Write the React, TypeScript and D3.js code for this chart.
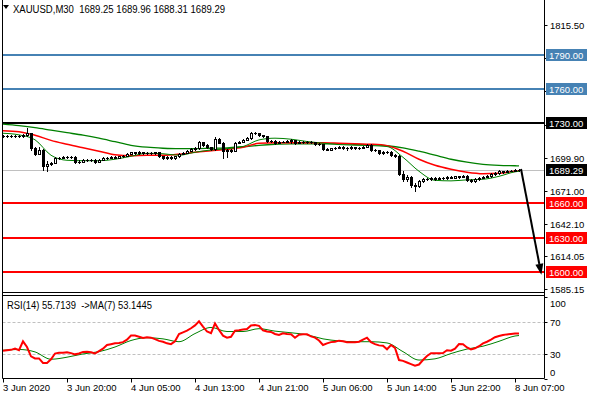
import React from "react";
import * as d3 from "d3";

const W = 590;
const H = 400;

const symbolText = "XAUUSD,M30  1689.25 1689.96 1688.31 1689.29";
const rsiText = "RSI(14) 55.7139  ->MA(7) 53.1445";

const timeTickIndex = [0, 16, 32, 48, 64, 80, 96, 112, 128];
const timeTickLabels = ["3 Jun 2020", "3 Jun 20:00", "4 Jun 05:00", "4 Jun 13:00", "4 Jun 21:00", "5 Jun 06:00", "5 Jun 14:00", "5 Jun 22:00", "8 Jun 07:00"];

const priceTicks = [1815.5, 1786.6, 1757.7, 1728.8, 1699.9, 1671.0, 1642.1, 1614.05, 1585.15];
const hiddenPriceTicks = [1786.6, 1757.7, 1728.8];
const rsiTicks = [100, 70, 30, 0];
const rsiLevels = [70, 30];

const blueLevels = [1790, 1760];
const blackLevels = [1730];
const redLevels = [1660, 1630, 1600];
const bidPrice = 1689.29;

const arrowFrom = [129.5, 1690];
const arrowTo = [134.6, 1597.5];

const opens = [
  1719.0, 1718.5, 1719.0, 1718.4, 1719.2, 1718.8, 1719.5, 1721.0, 1708.0, 1703.5,
  1706.8, 1692.5, 1694.5, 1695.0, 1699.5, 1699.8, 1700.5, 1700.2, 1700.8, 1696.0,
  1696.5, 1697.5, 1698.0, 1697.5, 1696.5, 1698.0, 1699.5, 1700.0, 1700.5, 1700.0,
  1701.0, 1701.5, 1703.5, 1704.5, 1704.0, 1704.5, 1704.0, 1704.2, 1703.8, 1704.5,
  1701.0, 1699.5, 1700.5, 1699.5, 1701.0, 1703.5, 1704.0, 1706.0, 1707.5, 1708.5,
  1713.5, 1711.0, 1709.0, 1707.5, 1716.6, 1713.1, 1705.8, 1706.5, 1706.0, 1713.1,
  1714.0, 1715.5, 1717.0, 1721.2, 1721.5, 1719.5, 1718.5, 1714.5, 1714.5, 1713.0,
  1714.0, 1714.0, 1714.5, 1715.0, 1713.0, 1713.5, 1714.0, 1713.5, 1713.5, 1712.0,
  1711.5, 1707.5, 1707.0, 1708.0, 1708.5, 1709.5, 1708.5, 1708.0, 1709.0, 1708.0,
  1708.5, 1709.5, 1711.0, 1707.0, 1706.5, 1704.0, 1704.5, 1705.0, 1702.5, 1701.5,
  1686.0, 1681.0, 1683.0, 1676.0, 1675.0, 1679.5, 1681.0, 1681.5, 1682.0, 1681.5,
  1682.5, 1682.0, 1683.0, 1682.5, 1683.5, 1683.0, 1684.0, 1680.5, 1679.5, 1681.0,
  1682.5, 1683.0, 1683.5, 1685.5, 1686.5, 1688.0, 1687.5, 1688.5, 1688.5, 1689.25,
];
const closes = [
  1718.5, 1719.0, 1718.4, 1719.2, 1718.8, 1719.5, 1721.0, 1708.0, 1703.5, 1706.8,
  1692.5, 1694.5, 1695.0, 1699.5, 1699.8, 1700.5, 1700.2, 1700.8, 1696.0, 1696.5,
  1697.5, 1698.0, 1697.5, 1696.5, 1698.0, 1699.5, 1700.0, 1700.5, 1700.0, 1701.0,
  1701.5, 1703.5, 1704.5, 1704.0, 1704.5, 1704.0, 1704.2, 1703.8, 1704.5, 1701.0,
  1699.5, 1700.5, 1699.5, 1701.0, 1703.5, 1704.0, 1706.0, 1707.5, 1708.5, 1713.5,
  1711.0, 1709.0, 1707.5, 1716.6, 1713.1, 1705.8, 1706.5, 1706.0, 1713.1, 1714.0,
  1715.5, 1717.0, 1721.2, 1721.5, 1719.5, 1718.5, 1714.5, 1714.5, 1713.0, 1714.0,
  1714.0, 1714.5, 1715.0, 1713.0, 1713.5, 1714.0, 1713.5, 1713.5, 1712.0, 1711.5,
  1707.5, 1707.0, 1708.0, 1708.5, 1709.5, 1708.5, 1708.0, 1709.0, 1708.0, 1708.5,
  1709.5, 1711.0, 1707.0, 1706.5, 1704.0, 1704.5, 1705.0, 1702.5, 1701.5, 1686.0,
  1681.0, 1683.0, 1676.0, 1675.0, 1679.5, 1681.0, 1681.5, 1682.0, 1681.5, 1682.5,
  1682.0, 1683.0, 1682.5, 1683.5, 1683.0, 1684.0, 1680.5, 1679.5, 1681.0, 1682.5,
  1683.0, 1683.5, 1685.5, 1686.5, 1688.0, 1687.5, 1688.5, 1688.5, 1689.25, 1689.29,
];
const highs = [
  1719.6, 1719.6, 1719.5, 1719.8, 1719.9, 1720.2, 1726.2, 1721.5, 1709.0, 1709.5,
  1707.5, 1697.0, 1696.5, 1700.5, 1700.6, 1701.2, 1701.0, 1701.5, 1701.2, 1697.5,
  1698.3, 1698.8, 1698.6, 1698.8, 1698.6, 1700.2, 1700.8, 1701.3, 1701.0, 1701.7,
  1702.3, 1704.2, 1705.2, 1705.0, 1705.3, 1705.0, 1705.0, 1704.8, 1705.2, 1704.8,
  1701.5, 1701.2, 1701.0, 1701.6, 1704.2, 1704.8, 1706.7, 1708.2, 1709.3, 1714.5,
  1714.0, 1711.5, 1709.6, 1717.5, 1717.2, 1713.6, 1707.5, 1707.4, 1713.8, 1714.8,
  1716.2, 1717.8, 1722.3, 1722.6, 1721.8, 1720.0, 1719.0, 1715.3, 1715.0, 1714.7,
  1714.8, 1715.3, 1715.8, 1715.5, 1714.3, 1714.8, 1714.6, 1714.3, 1714.0, 1712.6,
  1712.0, 1708.4, 1708.7, 1709.2, 1710.2, 1710.0, 1709.0, 1709.8, 1709.5, 1709.3,
  1710.2, 1711.8, 1711.5, 1707.6, 1707.0, 1705.3, 1705.8, 1705.5, 1703.2, 1702.5,
  1688.0, 1685.0, 1684.0, 1677.5, 1680.5, 1682.0, 1682.3, 1682.8, 1682.6, 1683.2,
  1683.0, 1683.8, 1683.6, 1684.2, 1684.0, 1684.8, 1684.5, 1681.2, 1681.8, 1683.2,
  1683.8, 1684.3, 1686.2, 1687.2, 1688.7, 1688.6, 1689.2, 1689.3, 1689.9, 1689.96,
];
const lows = [
  1718.0, 1718.0, 1717.8, 1718.0, 1718.2, 1718.3, 1719.0, 1706.5, 1702.5, 1703.0,
  1689.5, 1688.3, 1693.5, 1694.8, 1698.8, 1699.2, 1699.5, 1699.6, 1695.2, 1695.0,
  1696.0, 1697.0, 1696.8, 1695.5, 1696.0, 1697.6, 1699.0, 1699.4, 1699.3, 1699.5,
  1700.5, 1701.0, 1703.0, 1703.3, 1703.5, 1703.2, 1703.3, 1703.0, 1703.2, 1700.3,
  1698.6, 1699.0, 1698.4, 1699.0, 1700.6, 1703.0, 1703.6, 1705.5, 1707.0, 1707.8,
  1710.3, 1708.2, 1706.6, 1706.5, 1712.4, 1700.0, 1700.5, 1704.8, 1705.5, 1712.5,
  1713.5, 1715.0, 1716.6, 1720.4, 1718.8, 1717.8, 1713.8, 1713.6, 1712.2, 1712.5,
  1713.2, 1713.5, 1713.0, 1712.0, 1712.5, 1713.0, 1712.8, 1712.7, 1711.2, 1710.6,
  1706.5, 1706.2, 1706.5, 1707.5, 1708.0, 1707.8, 1707.0, 1707.5, 1707.2, 1707.5,
  1708.0, 1709.0, 1706.0, 1705.5, 1703.0, 1703.2, 1703.8, 1701.5, 1700.6, 1685.0,
  1679.5, 1679.5, 1674.5, 1670.6, 1674.2, 1678.8, 1680.2, 1680.8, 1680.7, 1681.0,
  1681.2, 1681.5, 1681.8, 1682.0, 1682.2, 1682.6, 1679.5, 1678.5, 1679.0, 1680.6,
  1682.0, 1682.6, 1683.0, 1685.0, 1686.0, 1686.8, 1687.0, 1687.8, 1688.0, 1688.31,
];

const maIndex = [0, 4, 8, 12, 16, 20, 24, 28, 32, 36, 40, 44, 48, 52, 56, 60, 64, 68, 72, 76, 80, 84, 88, 92, 96, 100, 104, 108, 112, 116, 120, 124, 128, 129];
const maSlow = [1729.1, 1727.8, 1726.1, 1723.9, 1721.7, 1719.5, 1716.9, 1713.8, 1710.7, 1709.0, 1708.1, 1707.7, 1707.7, 1708.1, 1708.5, 1709.4, 1710.7, 1711.6, 1712.0, 1712.0, 1712.0, 1712.0, 1711.6, 1711.2, 1710.3, 1708.5, 1705.5, 1702.0, 1698.5, 1695.9, 1694.1, 1693.2, 1692.8, 1692.7];
const maMid = [1723.4, 1722.6, 1719.5, 1715.0, 1711.6, 1708.5, 1705.5, 1702.4, 1701.5, 1702.0, 1702.0, 1702.9, 1704.6, 1705.9, 1707.2, 1709.0, 1712.5, 1712.9, 1712.9, 1712.9, 1712.9, 1712.5, 1712.0, 1711.6, 1710.3, 1705.5, 1698.5, 1693.2, 1689.7, 1687.1, 1685.8, 1686.2, 1688.0, 1688.3];
const maFast = [1721.2, 1719.8, 1715.5, 1702.0, 1697.6, 1697.2, 1697.2, 1698.5, 1701.1, 1703.7, 1703.3, 1702.0, 1704.6, 1706.6, 1707.8, 1709.6, 1715.4, 1716.9, 1716.0, 1714.0, 1712.5, 1711.3, 1710.7, 1710.4, 1709.6, 1700.2, 1688.0, 1680.1, 1679.6, 1680.5, 1681.0, 1683.6, 1687.5, 1688.0];

const rsiValues = [
  34.5, 35, 35.5, 37, 35, 46, 39, 27.5, 25, 25,
  19.5, 19.5, 24, 31, 32, 32, 32.5, 31.5, 30, 31,
  33, 33.3, 32.5, 31, 34, 37, 41.5, 42.5, 43.5, 44,
  45, 48, 53, 53, 51.5, 50, 50.9, 50.5, 48.6, 46.5,
  45.5, 43.5, 42.5, 46, 55, 57, 59, 62, 65.5, 70.5,
  64, 58, 56, 68, 60, 53, 50.5, 51.5, 59, 59.5,
  60.5, 61, 65.5, 66, 65, 59.5, 58, 57.5, 55, 53.7,
  55.8, 55, 54.6, 50.4, 54, 54.6, 54.6, 52, 50.5, 47,
  41.5, 43.5, 45, 45.5, 46.8, 46, 45, 45, 45, 45.5,
  48, 50.4, 45, 42.5, 41, 40.5, 36.2, 41.5, 38, 23,
  22, 20, 18, 16, 17.5, 23, 28, 31.3, 31.3, 31.3,
  31.5, 35, 34.5, 37, 42.7, 42.3, 38.5, 36, 37.4, 40,
  43.5, 45.5, 48, 51, 52.5, 53.7, 54.5, 55, 55.5, 55.7,
];
const rsiMaIndex = maIndex;
const rsiMa = [35, 36, 33, 24, 26.5, 30.5, 33.3, 39, 47, 50.4, 49, 45.5, 55.5, 63, 58, 58, 61.5, 58.5, 56.5, 54, 49, 46.5, 45.5, 45.5, 44, 33.3, 23, 24.5, 31, 36.5, 40, 46, 52.5, 53.1];

const FONT = "'Liberation Sans', Arial, sans-serif";

export default function App() {
  const x = d3.scaleLinear().domain([0, 128]).range([3, 515]);
  const yP = d3.scaleLinear().domain([1600, 1790]).range([272, 54.5]);
  const yR = d3.scaleLinear().domain([0, 100]).range([378.8, 297.3]);

  const left = 2.5;
  const right = 544.5;
  const mainBottom = 292.5;
  const rsiTop = 295.5;
  const rsiBottom = 378.5;

  const maLine = (vals: number[]) =>
    d3.line<number>().x((_, k) => x(maIndex[k])).y((v) => yP(v)).curve(d3.curveMonotoneX)(vals) || "";
  const rsiLine = d3.line<number>().x((_, k) => x(k)).y((v) => yR(v))(rsiValues) || "";
  const rsiMaLine = d3.line<number>().x((_, k) => x(rsiMaIndex[k])).y((v) => yR(v)).curve(d3.curveMonotoneX)(rsiMa) || "";

  const candles = closes.map((c, i) => {
    const o = opens[i];
    const cx = Math.round(x(i));
    const yo = yP(o);
    const yc = yP(c);
    const top = Math.round(Math.min(yo, yc));
    const bot = Math.round(Math.max(yo, yc));
    const hi = Math.round(yP(highs[i]));
    const lo = Math.round(yP(lows[i]));
    const up = c >= o;
    const bh = bot - top;
    return (
      <g key={i}>
        <line x1={cx + 0.5} x2={cx + 0.5} y1={hi} y2={lo + 1} stroke="#000" strokeWidth={1} />
        {bh < 1 ? (
          <line x1={cx - 1} x2={cx + 2} y1={top + 0.5} y2={top + 0.5} stroke="#000" strokeWidth={1} />
        ) : up ? (
          <rect x={cx - 0.5} y={top + 0.5} width={2} height={bh} fill="#fff" stroke="#000" strokeWidth={1} />
        ) : (
          <rect x={cx - 1} y={top} width={3} height={bh + 1} fill="#000" />
        )}
      </g>
    );
  });

  const ax = x(arrowFrom[0]);
  const ay = yP(arrowFrom[1]);
  const bx = x(arrowTo[0]);
  const by = yP(arrowTo[1]);
  const ang = Math.atan2(by - ay, bx - ax);
  const headL = 11;
  const headW = 4;
  const baseX = bx - headL * Math.cos(ang);
  const baseY = by - headL * Math.sin(ang);
  const px = -Math.sin(ang) * headW;
  const py = Math.cos(ang) * headW;

  const levelBox = (p: number, bg: string, key: string) => {
    const yy = Math.round(yP(p));
    return (
      <g key={key}>
        <rect x={546} y={yy - 6} width={41} height={12} fill={bg} />
        <text x={549} y={yy + 3.5} fontSize={9.5} fontFamily={FONT} fill="#fff">
          {p.toFixed(2)}
        </text>
      </g>
    );
  };

  return (
    <svg width={W} height={H} style={{ position: "absolute", left: 0, top: 0, background: "#fff" }} xmlns="http://www.w3.org/2000/svg">
      <rect x={0} y={0} width={W} height={H} fill="#fff" />
      <defs>
        <clipPath id="mainClip">
          <rect x={3} y={0} width={541} height={292} />
        </clipPath>
        <clipPath id="rsiClip">
          <rect x={3} y={296} width={541} height={82} />
        </clipPath>
      </defs>

      <g clipPath="url(#mainClip)">
        <line x1={left} x2={right} y1={Math.round(yP(bidPrice)) + 0.5} y2={Math.round(yP(bidPrice)) + 0.5} stroke="#c0c0c0" strokeWidth={1} />
        {blueLevels.map((p) => (
          <line key={"b" + p} x1={left} x2={right} y1={Math.round(yP(p))} y2={Math.round(yP(p))} stroke="#4682b4" strokeWidth={2} />
        ))}
        {blackLevels.map((p) => (
          <line key={"k" + p} x1={left} x2={right} y1={Math.round(yP(p))} y2={Math.round(yP(p))} stroke="#000" strokeWidth={2} />
        ))}
        {redLevels.map((p) => (
          <line key={"r" + p} x1={left} x2={right} y1={Math.round(yP(p))} y2={Math.round(yP(p))} stroke="#ff0000" strokeWidth={2} />
        ))}

        <path d={maLine(maSlow)} fill="none" stroke="#008000" strokeWidth={1.3} />
        <path d={maLine(maMid)} fill="none" stroke="#ff0000" strokeWidth={1.5} />
        <path d={maLine(maFast)} fill="none" stroke="#008000" strokeWidth={1} />

        {candles}

        <line x1={ax} y1={ay} x2={baseX} y2={baseY} stroke="#000" strokeWidth={2} />
        <polygon points={`${bx},${by} ${baseX + px},${baseY + py} ${baseX - px},${baseY - py}`} fill="#000" />
      </g>

      <g clipPath="url(#rsiClip)">
        {rsiLevels.map((v) => (
          <line key={"rl" + v} x1={left} x2={right} y1={Math.round(yR(v)) + 0.5} y2={Math.round(yR(v)) + 0.5} stroke="#c0c0c0" strokeWidth={1} strokeDasharray="3,2" />
        ))}
        <path d={rsiMaLine} fill="none" stroke="#008000" strokeWidth={1} />
        <path d={rsiLine} fill="none" stroke="#ff0000" strokeWidth={2} />
      </g>

      <line x1={left} x2={left} y1={0} y2={rsiBottom} stroke="#000" strokeWidth={1} />
      <line x1={right} x2={right} y1={0} y2={rsiBottom} stroke="#000" strokeWidth={1} />
      <line x1={left} x2={right} y1={mainBottom} y2={mainBottom} stroke="#000" strokeWidth={1} />
      <line x1={left} x2={right} y1={rsiTop} y2={rsiTop} stroke="#000" strokeWidth={1} />
      <line x1={left} x2={right} y1={rsiBottom} y2={rsiBottom} stroke="#000" strokeWidth={1} />

      {priceTicks.map((p) => {
        const yy = Math.round(yP(p));
        const hidden = hiddenPriceTicks.includes(p);
        return (
          <g key={"pt" + p}>
            <line x1={right} x2={right + 3} y1={yy + 0.5} y2={yy + 0.5} stroke="#000" />
            {!hidden && (
              <text x={550} y={yy + 3.5} fontSize={9.5} fontFamily={FONT} fill="#000">
                {p.toFixed(2)}
              </text>
            )}
          </g>
        );
      })}
      {blueLevels.map((p) => levelBox(p, "#4682b4", "lb" + p))}
      {blackLevels.map((p) => levelBox(p, "#000", "lk" + p))}
      {levelBox(bidPrice, "#000", "bid")}
      {redLevels.map((p) => levelBox(p, "#ff0000", "lr" + p))}

      {rsiTicks.map((v) => {
        const yy = Math.round(Math.min(Math.max(yR(v), 303), 372));
        return (
          <g key={"rt" + v}>
            <line x1={right} x2={right + 3} y1={Math.round(yR(v)) + 0.5} y2={Math.round(yR(v)) + 0.5} stroke="#000" />
            <text x={550} y={yy + 3.5} fontSize={9.5} fontFamily={FONT} fill="#000">
              {String(v)}
            </text>
          </g>
        );
      })}

      {timeTickIndex.map((t, k) => {
        const tx = Math.round(x(t)) + 0.5;
        return (
          <g key={"tt" + t}>
            <line x1={tx} x2={tx} y1={rsiBottom} y2={rsiBottom + 4} stroke="#000" />
            <text x={tx - 0.5} y={391} fontSize={9.5} fontFamily={FONT} fill="#000">
              {timeTickLabels[k]}
            </text>
          </g>
        );
      })}

      <polygon points="3,5 9,5 6,9" fill="#000" />
      <text x={13} y={13} fontSize={10} fontFamily={FONT} fill="#000" textLength={212} lengthAdjust="spacingAndGlyphs" style={{ whiteSpace: "pre" }}>
        {symbolText}
      </text>
      <text x={7} y={308.5} fontSize={10} fontFamily={FONT} fill="#000" textLength={145} lengthAdjust="spacingAndGlyphs" style={{ whiteSpace: "pre" }}>
        {rsiText}
      </text>
    </svg>
  );
}
